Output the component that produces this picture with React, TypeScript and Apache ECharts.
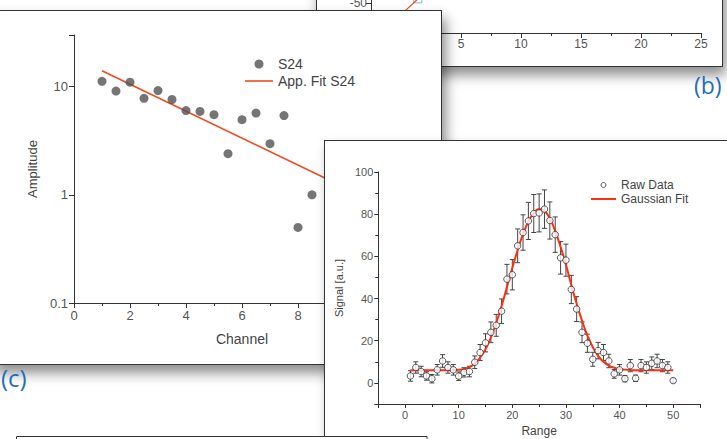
import React, { useEffect, useRef } from 'react';
import * as echarts from 'echarts';

const FONT = '"Liberation Sans", Arial, Helvetica, sans-serif';
const LABEL_FONT = '"Open Sans", "Noto Sans", sans-serif';

// ---------- Panel (b) (mostly hidden) ----------
const bFitX = [0, 1.5, 3];
const bFitY = [-59.7, -45.8, -31.8];
const bMarkX = [1.4];
const bMarkY = [-46.5];
const bYTickLabels = ['-50'];

// ---------- Panel (c) ----------
const channel = [1, 1.5, 2, 2.5, 3, 3.5, 4, 4.5, 5, 5.5, 6, 6.5, 7, 7.5, 8, 8.5];
const amplitude = [11.2, 9.1, 11.0, 7.8, 9.2, 7.6, 6.0, 5.9, 5.5, 2.4, 4.95, 5.7, 2.97, 5.4, 0.5, 1.0];
const fitChannel = [1, 10];
const fitAmplitude = [14, 1.06];
const ampTickLabels = ['0.1', '1', '10'];

// ---------- Gaussian panel ----------
const rangeX = [
  1, 2, 3, 4, 5, 6, 7, 8, 9, 10, 11, 12, 13, 14, 15, 16, 17, 18, 19, 20, 21, 22, 23, 24, 25,
  26, 27, 28, 29, 30, 31, 32, 33, 34, 35, 36, 37, 38, 39, 40, 41, 42, 43, 44, 45, 46, 47, 48, 49, 50,
];
const signal = [
  3.3, 7.3, 5.4, 3.3, 2.0, 6.2, 10.4, 7.3, 6.2, 3.2, 5.0, 5.4, 9.8, 14.4, 19.0, 24.0, 27.3, 34.0, 49.2, 51.3,
  65.0, 71.3, 76.8, 80.3, 80.6, 82.4, 77.0, 70.3, 59.3, 58.2, 44.3, 35.0, 24.0, 18.8, 11.2, 15.3, 14.4, 10.4, 4.3, 6.2,
  2.0, 8.2, 2.2, 8.2, 7.3, 9.3, 10.4, 8.2, 7.3, 1.1,
];
const signalErr = [
  2.5, 2.7, 2.5, 2.0, 2.0, 2.5, 3.0, 2.7, 2.5, 2.0, 2.2, 2.5, 3.0, 3.8, 4.3, 4.9, 5.2, 5.8, 7.0, 7.2,
  8.0, 8.4, 8.8, 9.0, 9.0, 9.1, 8.8, 8.4, 7.7, 7.6, 6.7, 5.9, 4.9, 4.3, 3.3, 3.9, 3.8, 3.2, 2.1, 2.5,
  1.5, 2.9, 1.5, 2.9, 2.7, 3.0, 3.2, 2.9, 2.7, 1.0,
];
const fitRange = rangeX;
const fitSignal = [
  6, 6, 6, 6, 6, 6, 6, 6, 6.1, 6.2, 6.6, 7.5, 9.2, 12, 16, 21.5, 28.5, 36.5, 45.5, 54.5,
  63, 70.5, 76.5, 80.5, 82.5, 81.5, 78, 72, 64.5, 56, 46.5, 37.5, 29.5, 22.5, 17, 12.8, 10, 8.2, 7.2, 6.6,
  6.3, 6.1, 6, 6, 6, 6, 6, 6, 6, 6,
];

const AXIS = '#333';
const TXT = '#555';
const FIT_C = '#f24a1f';
const FIT_G = '#ff2e12';

function EChart({ option, width, height }: { option: any; width: number; height: number }) {
  const ref = useRef<HTMLDivElement>(null);
  useEffect(() => {
    const chart = echarts.init(ref.current as HTMLDivElement, null, { renderer: 'svg' });
    chart.setOption(option);
    return () => chart.dispose();
  }, []);
  return <div ref={ref} style={{ width, height }} />;
}

const axisCommon = {
  axisLine: { show: true, onZero: false, lineStyle: { color: AXIS, width: 1 } },
  axisTick: { show: true, inside: false, length: 5, lineStyle: { color: AXIS } },
  minorTick: { show: true, splitNumber: 2, length: 3, lineStyle: { color: AXIS } },
  splitLine: { show: false },
  minorSplitLine: { show: false },
};

const optionB = {
  animation: false,
  textStyle: { fontFamily: FONT },
  grid: { left: 54, right: 21, top: 42, bottom: 33 },
  xAxis: {
    type: 'value',
    min: -2.5,
    max: 25,
    splitNumber: 6,
    ...axisCommon,
    axisLabel: {
      fontSize: 12,
      color: TXT,
      margin: 5,
      formatter: (v: number) => (v % 5 === 0 ? String(v) : ''),
    },
  },
  yAxis: {
    type: 'value',
    min: -75,
    max: 50,
    interval: 25,
    ...axisCommon,
    minorTick: { show: false },
    axisLabel: {
      fontSize: 12,
      color: TXT,
      margin: 4,
      formatter: (v: number) => (bYTickLabels.includes(String(v)) ? String(v) : ''),
    },
  },
  series: [
    {
      type: 'line',
      data: bFitX.map((x, i) => [x, bFitY[i]]),
      symbol: 'none',
      lineStyle: { color: FIT_C, width: 1.2 },
    },
    {
      type: 'scatter',
      data: bMarkX.map((x, i) => [x, bMarkY[i]]),
      symbol: 'rect',
      symbolSize: 8,
      itemStyle: { color: 'rgba(255,255,255,0)', borderColor: '#46b3c0', borderWidth: 1 },
    },
  ],
};

const optionC = {
  animation: false,
  textStyle: { fontFamily: FONT },
  grid: { left: 83, right: 31, top: 24, bottom: 61 },
  legend: {
    left: 249,
    top: 41,
    orient: 'vertical',
    itemWidth: 28,
    itemHeight: 9,
    itemGap: 3,
    textStyle: { fontSize: 14, color: '#444', lineHeight: 14, fontFamily: FONT },
    data: [
      { name: 'S24', icon: 'circle' },
      { name: 'App. Fit S24', icon: 'path://M0,0 H28 V1.6 H0 Z' },
    ],
  },
  xAxis: {
    type: 'value',
    min: 0,
    max: 12,
    interval: 2,
    name: 'Channel',
    nameLocation: 'middle',
    nameGap: 29,
    nameTextStyle: { fontSize: 14, color: '#444' },
    ...axisCommon,
    axisLabel: { fontSize: 13, color: TXT, margin: 6 },
  },
  yAxis: {
    type: 'log',
    logBase: 10,
    min: 0.1,
    max: 30,
    name: 'Amplitude',
    nameLocation: 'middle',
    nameGap: 32,
    nameTextStyle: { fontSize: 13, color: '#444' },
    ...axisCommon,
    minorTick: { show: false },
    axisLabel: {
      fontSize: 13,
      color: TXT,
      margin: 6,
      formatter: (v: number) => {
        const l = Math.log10(v);
        const k = Math.round(l);
        if (Math.abs(l - k) > 1e-6) return '';
        return ampTickLabels[k + 1] ?? '';
      },
    },
  },
  series: [
    {
      name: 'S24',
      type: 'scatter',
      data: channel.map((x, i) => [x, amplitude[i]]),
      symbolSize: 9,
      itemStyle: { color: '#525252' },
      z: 3,
    },
    {
      name: 'App. Fit S24',
      type: 'line',
      data: fitChannel.map((x, i) => [x, fitAmplitude[i]]),
      symbol: 'none',
      lineStyle: { color: FIT_C, width: 1.6 },
      itemStyle: { color: FIT_C },
      z: 2,
    },
  ],
};

const optionG = {
  animation: false,
  textStyle: { fontFamily: FONT },
  grid: { left: 52, right: 43, top: 31, bottom: 55 },
  legend: {
    left: 261,
    top: 33,
    orient: 'vertical',
    itemWidth: 25,
    itemHeight: 5,
    itemGap: 2,
    textStyle: { fontSize: 12, color: '#444', lineHeight: 12, fontFamily: FONT },
    data: [
      { name: 'Raw Data', icon: 'circle', itemStyle: { color: '#fff', borderColor: '#333', borderWidth: 1 } },
      { name: 'Gaussian Fit', icon: 'path://M0,0 H25 V2 H0 Z' },
    ],
  },
  xAxis: {
    type: 'value',
    min: -5,
    max: 55,
    splitNumber: 6,
    name: 'Range',
    nameLocation: 'middle',
    nameGap: 18,
    nameTextStyle: { fontSize: 12, color: '#444' },
    ...axisCommon,
    axisTick: { show: true, inside: false, length: 4, lineStyle: { color: AXIS } },
    minorTick: { show: true, splitNumber: 2, length: 3, lineStyle: { color: AXIS } },
    axisLabel: {
      fontSize: 11,
      color: TXT,
      margin: 5,
      formatter: (v: number) => (v >= 0 && v <= 50 && v % 10 === 0 ? String(v) : ''),
    },
  },
  yAxis: {
    type: 'value',
    min: -10,
    max: 100,
    splitNumber: 5,
    name: 'Signal [a.u.]',
    nameLocation: 'middle',
    nameGap: 29,
    nameTextStyle: { fontSize: 11, color: '#444' },
    ...axisCommon,
    axisTick: { show: true, inside: false, length: 4, lineStyle: { color: AXIS } },
    minorTick: { show: true, splitNumber: 2, length: 3, lineStyle: { color: AXIS } },
    axisLabel: {
      fontSize: 11,
      color: TXT,
      margin: 5,
      formatter: (v: number) => (v >= 0 && v % 20 === 0 ? String(v) : ''),
    },
  },
  series: [
    {
      name: 'Error',
      type: 'custom',
      data: rangeX.map((x, i) => [x, signal[i] - signalErr[i], signal[i] + signalErr[i]]),
      encode: { x: 0, y: [1, 2] },
      z: 1,
      renderItem: (params: any, api: any) => {
        const x = api.value(0);
        const lo = api.coord([x, api.value(1)]);
        const hi = api.coord([x, api.value(2)]);
        const w = 2.5;
        const st = { stroke: '#444', lineWidth: 1 };
        return {
          type: 'group',
          children: [
            { type: 'line', shape: { x1: lo[0], y1: lo[1], x2: hi[0], y2: hi[1] }, style: st },
            { type: 'line', shape: { x1: lo[0] - w, y1: lo[1], x2: lo[0] + w, y2: lo[1] }, style: st },
            { type: 'line', shape: { x1: hi[0] - w, y1: hi[1], x2: hi[0] + w, y2: hi[1] }, style: st },
          ],
        };
      },
    },
    {
      name: 'Gaussian Fit',
      type: 'line',
      data: fitRange.map((x, i) => [x, fitSignal[i]]),
      symbol: 'none',
      smooth: true,
      lineStyle: { color: FIT_G, width: 2 },
      itemStyle: { color: FIT_G },
      z: 3,
    },
    {
      name: 'Raw Data',
      type: 'scatter',
      data: rangeX.map((x, i) => [x, signal[i]]),
      symbol: 'circle',
      symbolSize: 6.5,
      itemStyle: { color: '#ffffff', borderColor: '#333', borderWidth: 1 },
      z: 4,
    },
  ],
};

const optionOverlay = {
  animation: false,
  graphic: [
    {
      type: 'text',
      left: 694,
      top: 73,
      style: { text: '(b)', fontSize: 23, fill: '#1d6fb8', fontFamily: LABEL_FONT },
    },
    {
      type: 'text',
      left: 1,
      top: 365,
      style: { text: '(c)', fontSize: 24, fill: '#1d6fb8', fontFamily: LABEL_FONT },
    },
    {
      type: 'rect',
      shape: { x: 16.5, y: 436.5, width: 410.5, height: 20 },
      style: { fill: '#ffffff', stroke: '#333', lineWidth: 1 },
    },
  ],
};

const panel = (left: number, top: number, w: number, h: number, shadow: string): React.CSSProperties => ({
  position: 'absolute',
  left,
  top,
  width: w,
  height: h,
  boxSizing: 'border-box',
  border: '1px solid #333',
  background: '#fff',
  boxShadow: shadow,
});

export default function App() {
  return (
    <div
      style={{
        position: 'fixed',
        left: 0,
        top: 0,
        width: 727,
        height: 439,
        overflow: 'hidden',
        background: '#fff',
      }}
    >
      <div style={panel(316, -160, 407, 227, '3px 8px 12px rgba(0,0,0,0.45)')}>
        <EChart option={optionB} width={405} height={225} />
      </div>
      <div style={panel(-10, 10, 452, 355, '4px 8px 12px rgba(0,0,0,0.45)')}>
        <EChart option={optionC} width={450} height={353} />
      </div>
      <div style={panel(324, 140, 420, 320, '3px 6px 10px rgba(0,0,0,0.35)')}>
        <EChart option={optionG} width={418} height={318} />
      </div>
      <div style={{ position: 'absolute', left: 0, top: 0, pointerEvents: 'none' }}>
        <EChart option={optionOverlay} width={727} height={439} />
      </div>
    </div>
  );
}
